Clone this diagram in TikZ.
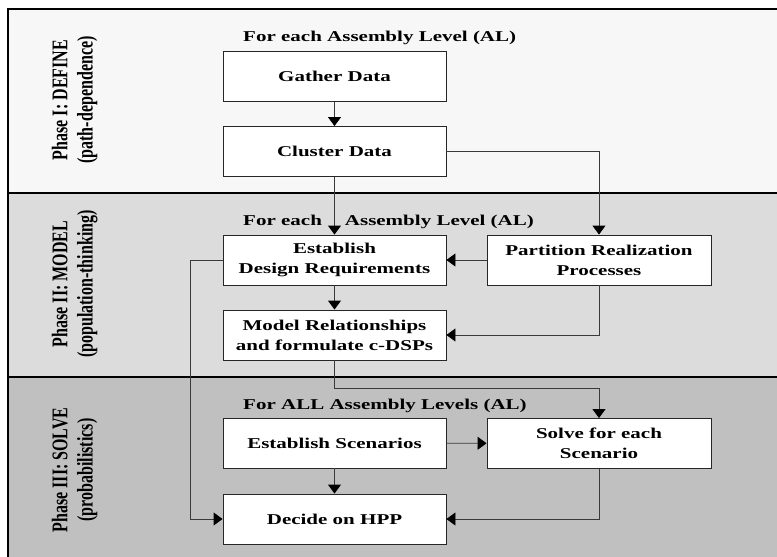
\documentclass[tikz,border=0pt]{standalone}
\usepackage{fontspec}
\usepackage{graphicx}
\setmainfont{Liberation Serif}[FakeStretch=1.4]
\newfontfamily\tagfont{Liberation Serif}
\usetikzlibrary{arrows.meta,positioning}
\definecolor{bandOne}{HTML}{F7F7F7}
\definecolor{bandTwo}{HTML}{DCDCDC}
\definecolor{bandThree}{HTML}{C0C0C0}
\definecolor{wire}{HTML}{3A3A3A}
\newcommand{\phasetext}[2]{\scalebox{1}[1.4]{\begin{tabular}{@{}c@{}}#1\\#2\end{tabular}}}

\begin{document}
\begin{tikzpicture}[x=1pt,y=-1pt,
    stage/.style={draw=black!85,fill=white,line width=.9pt,minimum width=223pt,minimum height=50pt,
      inner sep=0pt,align=center,font=\bfseries\fontsize{15}{20}\selectfont},
    loopnote/.style={anchor=base west,inner sep=0pt,font=\bfseries\fontsize{15}{18}\selectfont},
    phasetag/.style={rotate=90,inner sep=0pt,font=\tagfont\bfseries\fontsize{16}{18}\selectfont},
    flow/.style={draw=wire,line width=.9pt,-{Triangle[length=9pt,width=13pt,color=black]}}]
    \useasboundingbox (0,0) rectangle (777,557);
    \clip (0,0) rectangle (777,557);
    \foreach \top/\bot/\shade in {9/193/bandOne,193/377/bandTwo,377/620/bandThree}
      \draw[line width=1.2pt,fill=\shade] (8,\top) rectangle (820,\bot);

    \node[phasetag] (tagI) at (75,100) {\phasetext{Phase I: DEFINE}{(path-dependence)}};
    \node[phasetag] (tagII) at (75,284) {\phasetext{Phase II: MODEL}{(population-thinking)}};
    \node[phasetag] (tagIII) at (75,470) {\phasetext{Phase III: SOLVE}{(probabilistics)}};

    \node[loopnote] (noteI) at (243,41) {For each Assembly Level (AL)};
    \node[loopnote] (noteII) at (243,225) {For each\hspace{23pt}Assembly Level (AL)};
    \node[loopnote] (noteIII) at (243,409) {For ALL Assembly Levels (AL)};

    \node[stage] (gather) at (334.5,76.5) {Gather Data};
    \node[stage] (cluster) at (334.5,151.5) {Cluster Data};
    \node[stage] (estreq) at (334.5,260) {Establish\\Design Requirements};
    \node[stage] (model) at (334.5,335) {Model Relationships\\and formulate c-DSPs};
    \node[stage,minimum width=224pt] (partition) at (599,260) {Partition Realization\\Processes};
    \node[stage] (scen) at (334.5,443) {Establish Scenarios};
    \node[stage,minimum width=224pt] (solve) at (599,443.5) {Solve for each\\Scenario};
    \node[stage] (decide) at (334.5,519) {Decide on HPP};

    \draw[flow] (gather) -- (cluster);
    \draw[flow] (cluster) -- (estreq);
    \draw[flow] (cluster.east) -| (partition.north);
    \draw[flow] (partition) -- (estreq);
    \draw[flow] (partition.south) |- (model.east);
    \draw[flow] (estreq) -- (model);
    \draw[flow] (estreq.west) -- ++(-32,0) |- (decide.west);
    \draw[flow] (model.south) -- ++(0,28) -| (solve.north);
    \draw[flow] (scen) -- (solve);
    \draw[flow] (scen) -- (decide);
    \draw[flow] (solve.south) |- (decide.east);
  \end{tikzpicture}
\end{document}
